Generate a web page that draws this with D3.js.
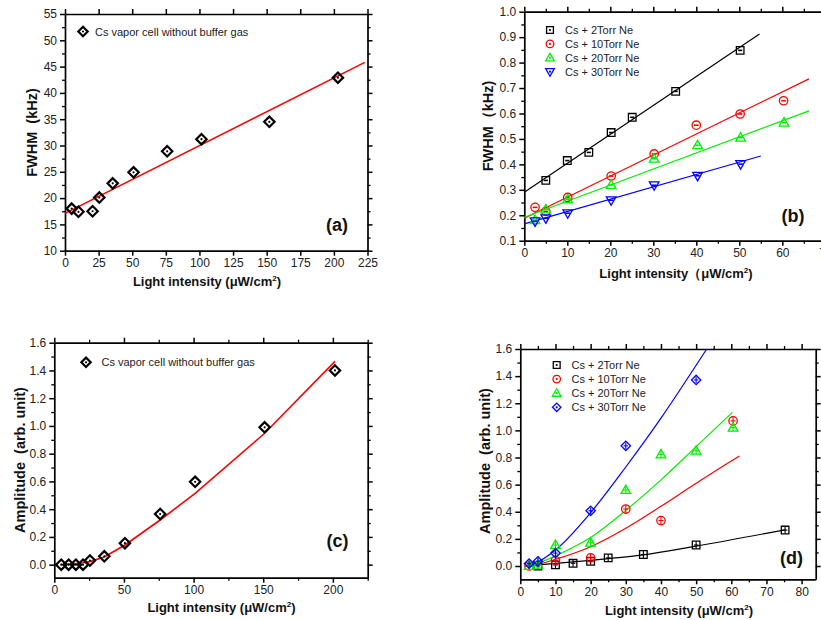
<!DOCTYPE html>
<html>
<head>
<meta charset="utf-8">
<script src="https://cdn.jsdelivr.net/npm/d3@7"></script>
<style>
  body { margin: 0; background: #fff; }
  svg { font-family: "Liberation Sans", Arial, sans-serif; }
</style>
</head>
<body>
<svg id="chart" width="821" height="620"></svg>
<script>
// ---------- data ----------
// (a) FWHM, Cs cell without buffer gas
const aIntensity = [5, 10, 20.5, 25.5, 35.5, 51, 76, 101.5, 152, 203];
const aFwhm = [18.0, 17.4, 17.5, 20.1, 22.8, 24.9, 28.9, 31.2, 34.5, 42.9];
const aFitX = [0, 223];
const aFitY = [17.1, 45.8];

// (b) FWHM with Ne buffer gas
const neLabels = ["Cs + 2Torr Ne", "Cs + 10Torr Ne", "Cs + 20Torr Ne", "Cs + 30Torr Ne"];
const b2X = [5, 10, 15, 20.2, 25.1, 35.2, 50.2];
const b2Y = [0.337, 0.415, 0.447, 0.525, 0.585, 0.687, 0.848];
const b10X = [2.5, 5, 10.1, 20.2, 30.2, 40, 50.2, 60.3];
const b10Y = [0.231, 0.215, 0.27, 0.354, 0.441, 0.554, 0.598, 0.65];
const b20X = [2.5, 5, 10.1, 20.2, 30.2, 40.3, 50.3, 60.4];
const b20Y = [0.181, 0.223, 0.263, 0.319, 0.422, 0.475, 0.505, 0.564];
const b30X = [2.5, 5, 10.1, 20.2, 30.2, 40.3, 50.3];
const b30Y = [0.176, 0.188, 0.208, 0.259, 0.318, 0.355, 0.401];
const bFitX = [[0, 54.7], [0, 66.2], [0, 66.2], [0, 55]];
const bFitY = [[0.29, 0.912], [0.188, 0.736], [0.192, 0.61], [0.166, 0.433]];

// (c) amplitude, Cs cell without buffer gas
const cIntensity = [5, 10.3, 15.5, 20.6, 25.6, 35.9, 50.7, 76, 101.1, 151, 201.5];
const cAmp = [0, 0, 0, 0, 0.03, 0.06, 0.155, 0.365, 0.597, 0.99, 1.4];
const cFit = [0, 0.004, 0.008, 0.014, 0.022, 0.055, 0.142, 0.322, 0.514, 0.947, 1.465];

// (d) amplitude with Ne buffer gas
const d2X = [5, 10, 15, 20, 25, 35, 50, 75.3];
const d2Y = [0.0, 0.008, 0.02, 0.035, 0.06, 0.085, 0.155, 0.265];
const d10X = [2.5, 10, 20, 30, 40, 60.5];
const d10Y = [0.0, 0.04, 0.06, 0.42, 0.335, 1.07];
const d20X = [2.5, 5, 10, 20, 30, 40, 50, 60.5];
const d20Y = [0.0, 0.01, 0.155, 0.172, 0.56, 0.823, 0.85, 1.02];
const d30X = [2.5, 5, 10, 20, 30, 50];
const d30Y = [0.018, 0.035, 0.095, 0.407, 0.886, 1.372];
const d2FitX = [2.5, 5, 10, 15, 20, 25, 35, 50, 75.3];
const d2FitY = [0.002, 0.008, 0.02, 0.03, 0.042, 0.055, 0.082, 0.147, 0.267];
const d10FitX = [1.3, 5, 10, 20, 30, 40, 50, 60, 62.3];
const d10FitY = [-0.005, 0.012, 0.049, 0.142, 0.278, 0.44, 0.61, 0.775, 0.811];
const d20FitX = [1.3, 5, 10, 20, 30, 40, 50, 60.3];
const d20FitY = [-0.005, 0.02, 0.075, 0.21, 0.41, 0.635, 0.88, 1.133];
const d30FitX = [1.3, 2.5, 5, 10, 20, 30, 40, 50, 53];
const d30FitY = [-0.005, 0.005, 0.03, 0.118, 0.393, 0.73, 1.09, 1.48, 1.6];

const zip = (xs, ys) => xs.map((v, i) => [v, ys[i]]);

const svg = d3.select("#chart");
svg.append("rect").attr("width", 821).attr("height", 620).attr("fill", "#fff");

const shapePath = (shape, s) => {
    if (shape === "square") return `M${-s},${-s}H${s}V${s}H${-s}Z`;
    if (shape === "diamond") return `M0,${-s * 1.3}L${s * 1.3},0L0,${s * 1.3}L${-s * 1.3},0Z`;
    if (shape === "up") return `M0,${-s * 1.25}L${s * 1.2},${s * 0.85}L${-s * 1.2},${s * 0.85}Z`;
    if (shape === "down") return `M0,${s * 1.25}L${s * 1.2},${-s * 0.85}L${-s * 1.2},${-s * 0.85}Z`;
    return `M${s},0A${s},${s} 0 1,1 ${-s},0A${s},${s} 0 1,1 ${s},0Z`;
};

const marker = (g, cx, cy, o) => {
    const m = g.append("g").attr("transform", `translate(${cx},${cy})`);
    m.append("path")
        .attr("d", shapePath(o.shape, o.size))
        .attr("fill", "none")
        .attr("stroke", o.color)
        .attr("stroke-width", o.sw);
    if (o.inner === "dot") {
        m.append("circle").attr("r", 1.1).attr("fill", o.color);
    } else if (o.inner === "dash") {
        m.append("line").attr("x1", -o.size * 0.55).attr("x2", o.size * 0.55)
            .attr("stroke", o.color).attr("stroke-width", 1.6);
    } else if (o.inner === "plus") {
        m.append("line").attr("y1", -o.size * 0.9).attr("y2", o.size * 0.9)
            .attr("stroke", o.color).attr("stroke-width", 1.1);
        m.append("line").attr("x1", -o.size * 0.6).attr("x2", o.size * 0.6)
            .attr("stroke", o.color).attr("stroke-width", 1.1);
    }
};

const xTitle = (g, cx, cy, size, paren) => {
    const t = g.append("text")
        .attr("x", cx).attr("y", cy)
        .attr("text-anchor", "middle")
        .attr("font-weight", "bold")
        .attr("font-size", size)
        .attr("fill", "#111");
    t.append("tspan").text(`Light intensity${paren}\u03bcW/cm`);
    t.append("tspan").attr("font-size", size * 0.62).attr("dy", -size * 0.4).text("2");
    t.append("tspan").attr("dy", size * 0.4).text(")");
};

const drawPanel = (p) => {
    const g = svg.append("g");
    const x = d3.scaleLinear().domain(p.xDomain).range([p.left, p.right]);
    const y = d3.scaleLinear().domain(p.yDomain).range([p.bottom, p.top]);

    const sides = [
        { make: d3.axisBottom, scale: x, at: `translate(0,${p.bottom})`, ticks: p.xTicks, minor: p.xMinor, fmt: p.xFmt },
        { make: d3.axisTop, scale: x, at: `translate(0,${p.top})`, ticks: p.xTicks, minor: p.xMinor, fmt: null },
        { make: d3.axisLeft, scale: y, at: `translate(${p.left},0)`, ticks: p.yTicks, minor: p.yMinor, fmt: p.yFmt },
        { make: d3.axisRight, scale: y, at: `translate(${p.right},0)`, ticks: p.yTicks, minor: p.yMinor, fmt: null },
    ];
    sides.forEach((s) => {
        const minor = g.append("g").attr("transform", s.at)
            .call(s.make(s.scale).tickValues(s.minor).tickSize(3).tickFormat(""));
        minor.select(".domain").remove();
        minor.selectAll(".tick line").attr("stroke-width", 1.3);

        const major = g.append("g").attr("transform", s.at)
            .call(s.make(s.scale).tickValues(s.ticks).tickSizeInner(5).tickSizeOuter(0)
                .tickPadding(3).tickFormat(s.fmt ? s.fmt : ""));
        major.attr("font-family", null).attr("font-size", 12);
        major.select(".domain").attr("stroke-width", 1.7);
        major.selectAll(".tick line").attr("stroke-width", 1.5);
        major.selectAll(".tick text").attr("fill", "#222");
    });

    const line = d3.line().x((d) => x(d[0])).y((d) => y(d[1])).curve(p.curve || d3.curveLinear);

    p.series.forEach((s) => {
        g.append("path")
            .datum(zip(s.fitX, s.fitY))
            .attr("fill", "none")
            .attr("stroke", s.color)
            .attr("stroke-width", s.lw || 1.2)
            .attr("d", line);
    });
    p.series.forEach((s) => {
        zip(s.x, s.y).forEach((d) => {
            marker(g, x(d[0]), y(d[1]), {
                shape: s.shape, size: s.size, color: s.mColor || s.color, sw: s.sw, inner: p.inner,
            });
        });
    });

    // legend
    p.legend.forEach((l, i) => {
        const s = p.series[i];
        const ly = p.legendY + i * p.legendStep;
        marker(g, p.legendX, ly, {
            shape: s.shape, size: s.size * 0.9, color: s.mColor || s.color, sw: s.sw, inner: "dot",
        });
        g.append("text")
            .attr("x", p.legendTextX).attr("y", ly + 4)
            .attr("font-size", 11).attr("fill", "#222")
            .text(l);
    });

    xTitle(g, p.xTitleX, p.xTitleY, 13, p.paren);
    g.append("text")
        .attr("transform", `translate(${p.yTitleX},${p.yTitleY}) rotate(-90)`)
        .attr("text-anchor", "middle")
        .attr("font-weight", "bold")
        .attr("font-size", 14.5)
        .attr("fill", "#111")
        .style("white-space", "pre")
        .text(p.yTitle);
    g.append("text")
        .attr("x", p.tagX).attr("y", p.tagY)
        .attr("text-anchor", "middle")
        .attr("font-weight", "bold")
        .attr("font-size", 18)
        .attr("fill", "#111")
        .text(p.tag);
};

const f1 = d3.format(".1f");

drawPanel({
    left: 65, right: 367.5, top: 14, bottom: 250.7,
    xDomain: [0, 225], yDomain: [10, 55],
    xTicks: d3.range(0, 226, 25), xMinor: [],
    yTicks: d3.range(10, 56, 5), yMinor: d3.range(12.5, 55, 5),
    xFmt: d3.format("d"), yFmt: d3.format("d"),
    inner: "dot",
    series: [{
        x: aIntensity, y: aFwhm, fitX: aFitX, fitY: aFitY,
        color: "#ff0000", mColor: "#000", shape: "diamond", size: 4, sw: 2.2, lw: 1.6,
    }],
    legend: ["Cs vapor cell without buffer gas"], legendX: 83, legendY: 31.5, legendStep: 14, legendTextX: 95,
    xTitleX: 207, xTitleY: 286, paren: " (",
    yTitleX: 37, yTitleY: 132.5, yTitle: "FWHM  (kHz)",
    tagX: 337, tagY: 231, tag: "(a)",
});

drawPanel({
    left: 524.3, right: 825.3, top: 11.7, bottom: 240.7,
    xDomain: [0, 70], yDomain: [0.1, 1.0],
    xTicks: d3.range(0, 71, 10), xMinor: d3.range(5, 70, 10),
    yTicks: d3.range(1, 11).map((v) => v / 10), yMinor: d3.range(1.5, 10, 1).map((v) => v / 10),
    xFmt: d3.format("d"), yFmt: f1,
    inner: "dash",
    series: [
        { x: b2X, y: b2Y, fitX: bFitX[0], fitY: bFitY[0], color: "#000", shape: "square", size: 3.8, sw: 1.3 },
        { x: b10X, y: b10Y, fitX: bFitX[1], fitY: bFitY[1], color: "#ff0000", shape: "circle", size: 4.2, sw: 1.3 },
        { x: b20X, y: b20Y, fitX: bFitX[2], fitY: bFitY[2], color: "#00f000", shape: "up", size: 4, sw: 1.3 },
        { x: b30X, y: b30Y, fitX: bFitX[3], fitY: bFitY[3], color: "#0000ff", shape: "down", size: 4, sw: 1.3 },
    ],
    legend: neLabels, legendX: 550, legendY: 30, legendStep: 13.9, legendTextX: 565,
    xTitleX: 676, xTitleY: 278, paren: "\uff08",
    yTitleX: 492.5, yTitleY: 126, yTitle: "FWHM\uff08kHz)",
    tagX: 793, tagY: 222, tag: "(b)",
});

drawPanel({
    left: 54.3, right: 367.7, top: 342.7, bottom: 577.7,
    xDomain: [0, 225], yDomain: [-0.094, 1.6],
    xTicks: d3.range(0, 201, 50), xMinor: d3.range(25, 226, 50),
    yTicks: d3.range(0, 17, 2).map((v) => v / 10), yMinor: d3.range(1, 17, 2).map((v) => v / 10),
    xFmt: d3.format("d"), yFmt: f1,
    inner: "dot",
    series: [{
        x: cIntensity, y: cAmp, fitX: cIntensity, fitY: cFit,
        color: "#ff0000", mColor: "#000", shape: "diamond", size: 4, sw: 2.2, lw: 1.6,
    }],
    legend: ["Cs vapor cell without buffer gas"], legendX: 86, legendY: 362.3, legendStep: 14, legendTextX: 101.5,
    xTitleX: 221.5, xTitleY: 612, paren: " (",
    yTitleX: 24.5, yTitleY: 460, yTitle: "Amplitude  (arb. unit)",
    tagX: 337.5, tagY: 547, tag: "(c)",
});

drawPanel({
    left: 520.3, right: 815.7, top: 349, bottom: 579.3,
    xDomain: [0, 84], yDomain: [-0.098, 1.6],
    xTicks: d3.range(0, 81, 10), xMinor: d3.range(5, 84, 10),
    yTicks: d3.range(0, 17, 2).map((v) => v / 10), yMinor: d3.range(1, 17, 2).map((v) => v / 10),
    xFmt: d3.format("d"), yFmt: f1,
    inner: "plus", curve: d3.curveMonotoneX,
    series: [
        { x: d2X, y: d2Y, fitX: d2FitX, fitY: d2FitY, color: "#000", shape: "square", size: 3.8, sw: 1.3 },
        { x: d10X, y: d10Y, fitX: d10FitX, fitY: d10FitY, color: "#ff0000", shape: "circle", size: 4.2, sw: 1.3 },
        { x: d20X, y: d20Y, fitX: d20FitX, fitY: d20FitY, color: "#00f000", shape: "up", size: 4, sw: 1.3 },
        { x: d30X, y: d30Y, fitX: d30FitX, fitY: d30FitY, color: "#0000ff", shape: "diamond", size: 3.6, sw: 1.3 },
    ],
    legend: neLabels, legendX: 556.7, legendY: 365, legendStep: 14.1, legendTextX: 571.5,
    xTitleX: 679, xTitleY: 615, paren: " (",
    yTitleX: 489.5, yTitleY: 461, yTitle: "Amplitude  (arb. unit)",
    tagX: 791.5, tagY: 564, tag: "(d)",
});
</script>
</body>
</html>
